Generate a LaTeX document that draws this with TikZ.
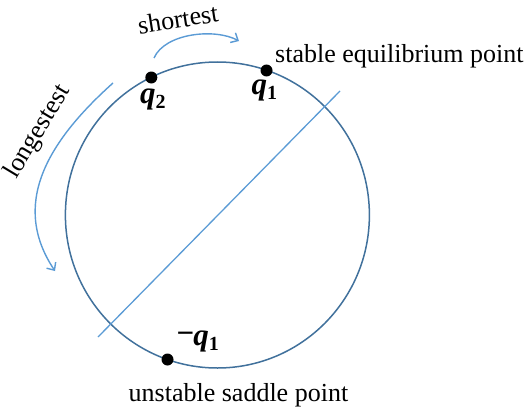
\documentclass[tikz,border=0pt]{standalone}
\usepackage{fontspec}
\setmainfont{Liberation Serif}
\usetikzlibrary{arrows.meta}
\definecolor{circ}{HTML}{41719C}
\definecolor{lblue}{HTML}{5B9BD5}
\newcommand{\qlab}[1]{\textbf{\textit{q}}\raisebox{-5pt}{\fontsize{20}{20}\selectfont\textbf{#1}}}
\begin{document}
\begin{tikzpicture}[x=1pt,y=-1pt,
  lbl/.style={font=\fontsize{26}{30}\selectfont, inner sep=0pt},
  qlbl/.style={font=\fontsize{31}{34}\selectfont, inner sep=0pt},
  dot/.style={circle, fill=black, inner sep=0pt, minimum size=12pt},
  arr/.style={draw=lblue, line width=1.4pt, -{Straight Barb[length=6pt,width=11pt]}},
]
\useasboundingbox (0,0) rectangle (527,412);
\coordinate (O) at (217.4,215);
\draw[circ, line width=1.5pt] (O) ellipse [x radius=152pt, y radius=153pt];
\coordinate (D1) at (98,337);
\coordinate (D2) at (340,91);
\draw[lblue, line width=1.3pt] (D1) -- (D2);
\node[dot] (q1) at (266.5,70.5) {};
\node[dot] (q2) at (151.3,77.5) {};
\node[dot] (mq1) at (167.5,359.5) {};
\node[qlbl, anchor=base west] (lq2) at (140,103) {\qlab{2}};
\node[qlbl, anchor=base west] (lq1) at (251.5,94.5) {\qlab{1}};
\node[qlbl, anchor=base west] (lmq1) at (176.5,345) {\raisebox{2pt}{\textbf{−}}\kern-1pt\qlab{1}};
\node[lbl, anchor=base west] (stab) at (275,62.5) {stable equilibrium point};
\node[lbl, anchor=base west] (unst) at (128.5,401) {unstable saddle point};
\node[lbl, rotate=9] (short) at (178,19) {shortest};
\node[lbl, rotate=59] (long) at (38,132) {longestest};
\coordinate (sa) at (154,58);
\coordinate (sb) at (239,41);
\draw[arr] (sa) .. controls (165,33) and (215,28) .. (sb);
\coordinate (la) at (113,83);
\coordinate (lb) at (55,271);
\draw[arr] (la) .. controls (46,143) and (11,205) .. (lb);
\end{tikzpicture}
\end{document}
